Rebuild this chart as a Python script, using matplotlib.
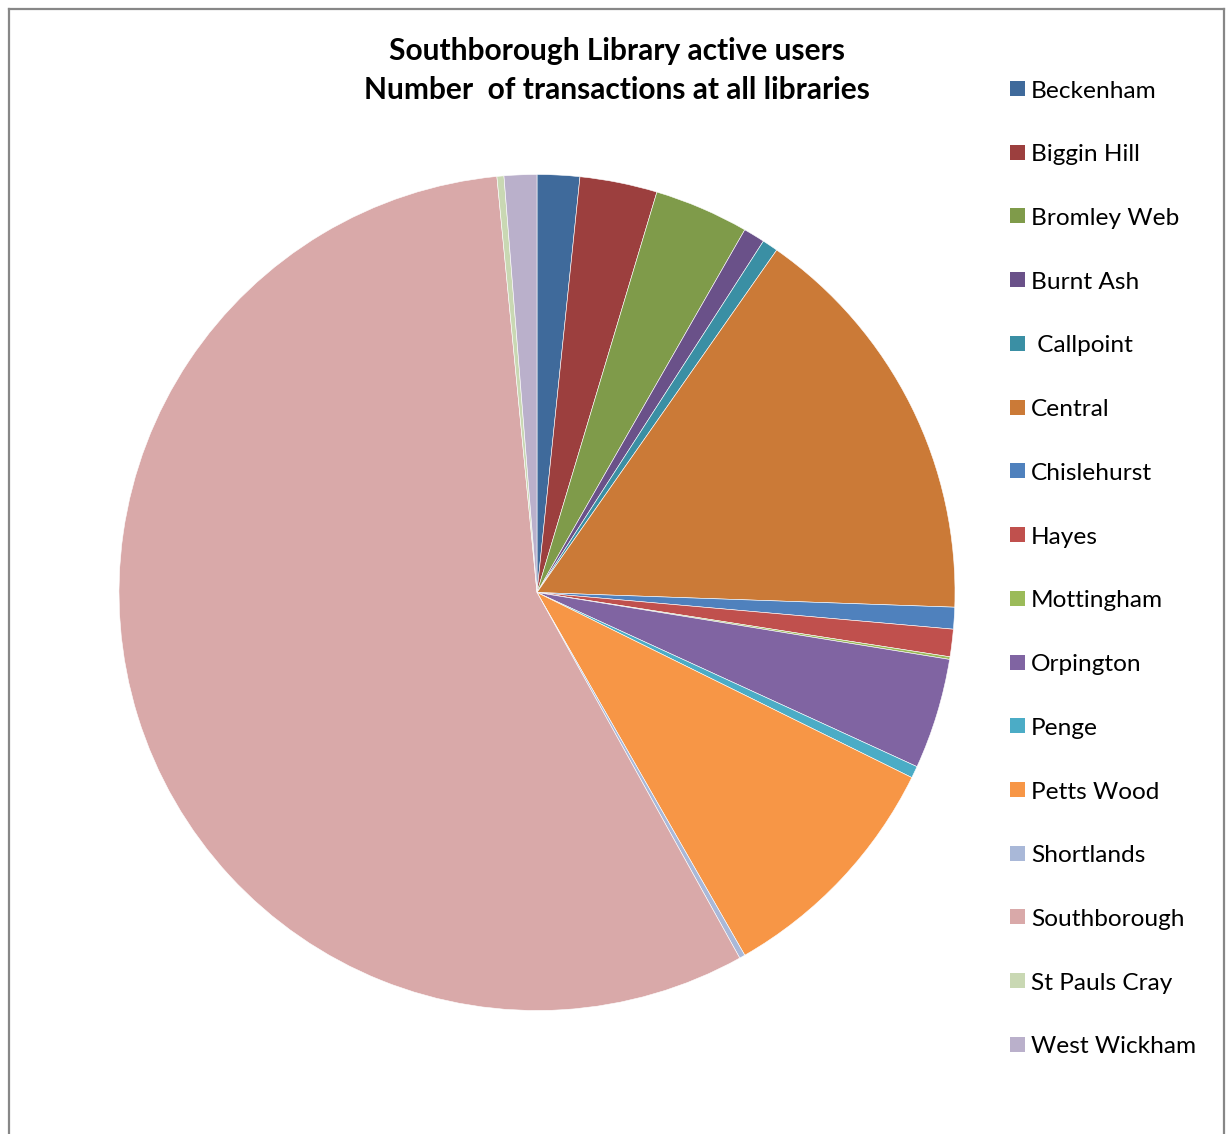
import matplotlib.pyplot as plt
from matplotlib.patches import Rectangle
from matplotlib.lines import Line2D

# Share of transactions (%) made by Southborough's active users, per library
libraries = ["Beckenham", "Biggin Hill", "Bromley Web", "Burnt Ash", " Callpoint",
             "Central", "Chislehurst", "Hayes", "Mottingham", "Orpington", "Penge",
             "Petts Wood", "Shortlands", "Southborough", "St Pauls Cray", "West Wickham"]
share = [1.64, 2.99, 3.65, 0.83, 0.61, 15.84, 0.84, 1.06, 0.10, 4.28, 0.46,
         9.42, 0.22, 56.53, 0.27, 1.26]
colours = ["#3F6A9B", "#9C3F3E", "#7F9B4A", "#6A5189", "#3A8FA4", "#CB7A37",
           "#4F81BD", "#C0504D", "#9BBB59", "#8064A2", "#4BACC6", "#F79646",
           "#A9B8D8", "#D9A9A9", "#C9D8B3", "#BAB0CB"]

W, H = 1227, 1134
fig = plt.figure(figsize=(W / 100, H / 100), dpi=100)
plt.rcParams["font.family"] = ["Lato", "DejaVu Sans"]

# pie centre and radius in pixels
cx, cy, r = 537, 592.5, 418
ax = fig.add_axes([(cx - r) / W, (H - cy - r) / H, 2 * r / W, 2 * r / H])
ax.pie(share, colors=colours, startangle=90, counterclock=False, radius=1,
       wedgeprops=dict(edgecolor="white", linewidth=0.4))
ax.set_xlim(-1, 1)
ax.set_ylim(-1, 1)
ax.set_aspect("auto")
ax.axis("off")

fig.text(617 / W, 1 - 51 / H, "Southborough Library active users",
         ha="center", va="center", fontsize=21.5, fontweight="bold")
fig.text(617 / W, 1 - 90 / H, "Number  of transactions at all libraries",
         ha="center", va="center", fontsize=21.5, fontweight="bold")

# legend column on the right
y0, step = 89, 63.73
for i, (name, col) in enumerate(zip(libraries, colours)):
    y = y0 + i * step
    fig.add_artist(Rectangle((1010 / W, 1 - (y + 7) / H), 15 / W, 15 / H,
                             transform=fig.transFigure, facecolor=col, edgecolor="none"))
    fig.text(1031 / W, 1 - (y + 2) / H, name, ha="left", va="center", fontsize=17.6)

# outer chart border (open at the bottom)
frame = dict(color="#878787", linewidth=1.6, transform=fig.transFigure)
fig.add_artist(Line2D([9 / W, 9 / W], [0, 1 - 9 / H], **frame))
fig.add_artist(Line2D([9 / W, 1224 / W], [1 - 9 / H, 1 - 9 / H], **frame))
fig.add_artist(Line2D([1224 / W, 1224 / W], [1 - 9 / H, 0], **frame))

fig.savefig("out.png", dpi=100, facecolor="white")
